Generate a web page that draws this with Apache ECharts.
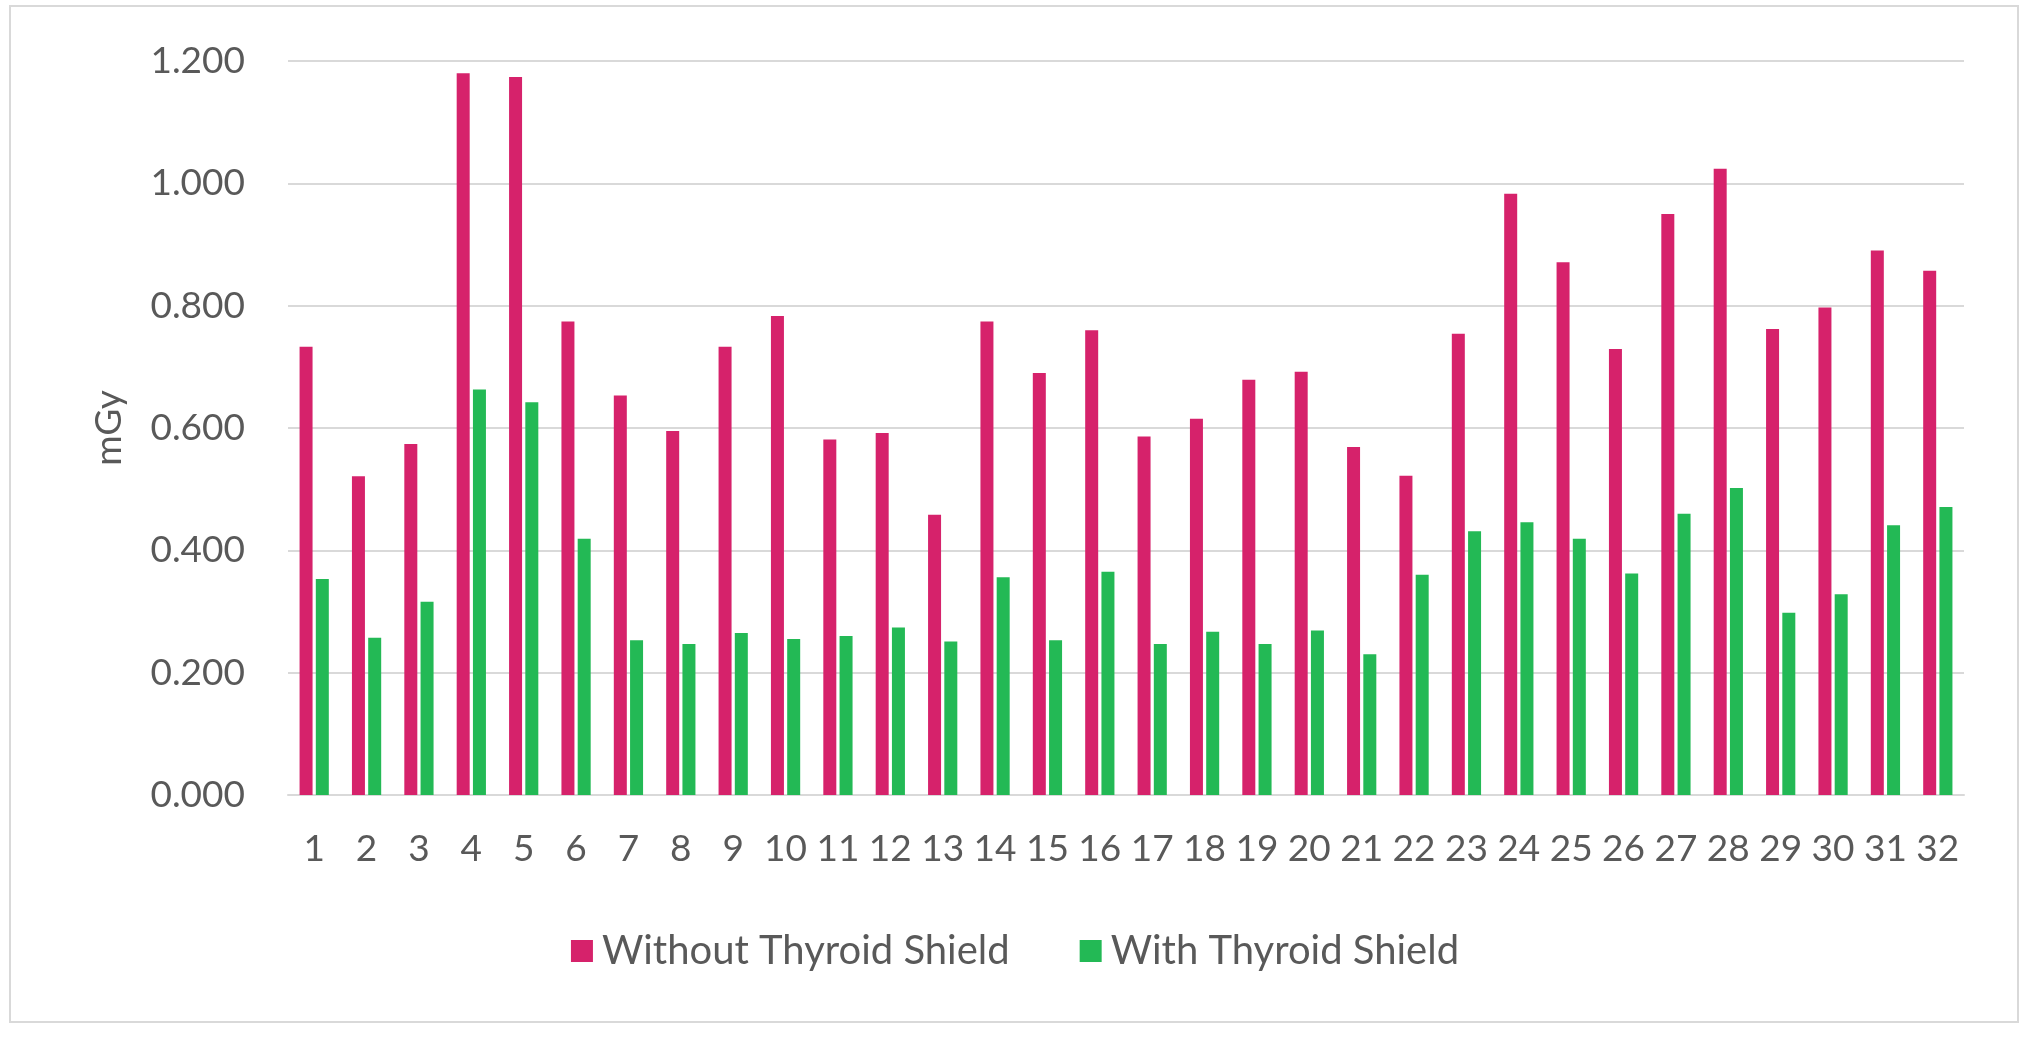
<!DOCTYPE html>
<html><head><meta charset="utf-8">
<script src="https://cdn.jsdelivr.net/npm/echarts@6/dist/echarts.min.js"></script>
<style>html,body{margin:0;padding:0;background:#fff}#c{width:2030px;height:1038px}</style>
</head><body><div id="c"></div>
<script>
const categories = ['1','2','3','4','5','6','7','8','9','10','11','12','13','14','15','16','17','18','19','20','21','22','23','24','25','26','27','28','29','30','31','32'];
const withoutShield = [0.733,0.521,0.574,1.180,1.174,0.774,0.653,0.595,0.733,0.783,0.581,0.592,0.458,0.774,0.690,0.760,0.586,0.615,0.679,0.692,0.569,0.522,0.754,0.983,0.871,0.729,0.950,1.024,0.762,0.797,0.890,0.857];
const withShield = [0.353,0.257,0.316,0.663,0.642,0.419,0.253,0.247,0.265,0.255,0.260,0.274,0.251,0.356,0.253,0.365,0.247,0.267,0.247,0.269,0.230,0.360,0.431,0.446,0.419,0.362,0.460,0.502,0.298,0.328,0.441,0.471];
const seriesNames = ['Without Thyroid Shield','With Thyroid Shield'];
const yTicks = {min:0, max:1.2, interval:0.2};

const chart = echarts.init(document.getElementById('c'), null, {renderer:'canvas'});
const font = 'Lato';
const txt = '#595959';
chart.setOption({
  animation:false,
  backgroundColor:'#fff',
  graphic:[{type:'rect',shape:{x:10,y:6,width:2008,height:1016},style:{fill:'none',stroke:'#d9d9d9',lineWidth:2},silent:true}],
  grid:{left:288,right:66,top:61,bottom:243,containLabel:false},
  legend:{
    data:seriesNames, bottom:62, left:'center', itemWidth:22, itemHeight:22, itemGap:70,
    icon:'rect',
    textStyle:{fontFamily:font,fontSize:40,color:txt,padding:[0,0,0,4]}
  },
  xAxis:{
    type:'category', data:categories,
    axisLine:{lineStyle:{color:'#d9d9d9',width:2}},
    axisTick:{show:false},
    axisLabel:{fontFamily:font,fontSize:37,color:txt,margin:36,interval:0}
  },
  yAxis:{
    type:'value', min:yTicks.min, max:yTicks.max, interval:yTicks.interval,
    name:'mGy', nameLocation:'middle', nameGap:160, nameRotate:90,
    nameTextStyle:{fontFamily:font,fontSize:37,color:txt},
    axisLine:{show:false}, axisTick:{show:false},
    splitLine:{lineStyle:{color:'#d9d9d9',width:2}},
    axisLabel:{fontFamily:font,fontSize:37,color:txt,margin:43,formatter:v=>v.toFixed(3)}
  },
  series:[
    {name:seriesNames[0],type:'bar',data:withoutShield,barWidth:13,barGap:'25%',itemStyle:{color:'#D6226B'}},
    {name:seriesNames[1],type:'bar',data:withShield,barWidth:13,barGap:'25%',itemStyle:{color:'#23B955'}}
  ]
});
</script></body></html>
